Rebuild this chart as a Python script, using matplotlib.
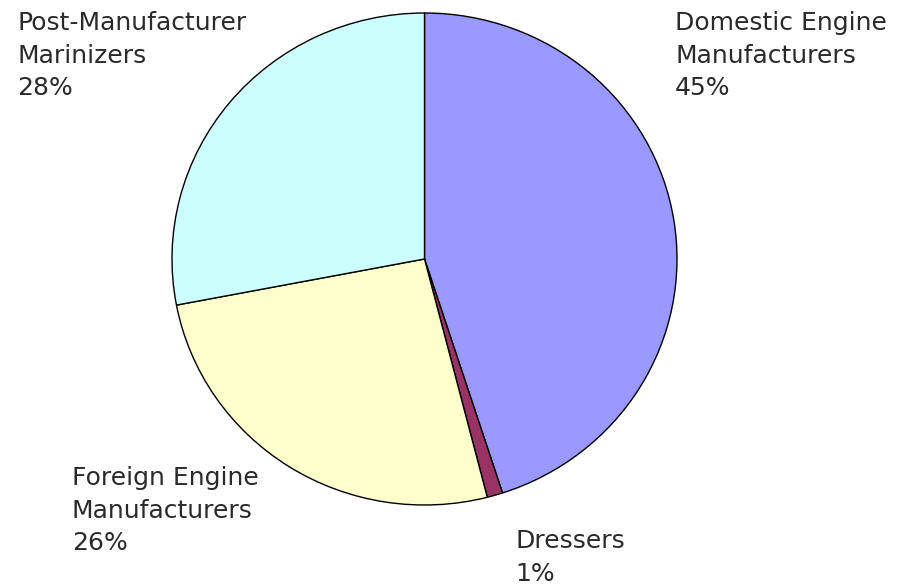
import matplotlib.pyplot as plt

# Parts de marché par catégorie de fabricant
categories = ['Domestic Engine\nManufacturers', 'Dressers',
              'Foreign Engine\nManufacturers', 'Post-Manufacturer\nMarinizers']
parts = [45, 1, 26, 28]
couleurs = ['#9999FF', '#993366', '#FFFFCC', '#CCFFFF']

# Position des étiquettes (pixels, coin haut-gauche)
pos_etiquettes = [(675, 11), (515, 529), (72, 466), (17, 11)]

W, H = 901, 585
fig = plt.figure(figsize=(W / 100, H / 100), dpi=100)
fig.patch.set_facecolor('white')

# Zone du camembert : légèrement elliptique
ax = fig.add_axes([172 / W, 1 - 505 / H, 505 / W, 492 / H])
ax.pie(parts, colors=couleurs, startangle=90, counterclock=False,
       radius=1, wedgeprops=dict(edgecolor='black', linewidth=1.0))
ax.set_aspect('auto')
ax.set_xlim(-1.0, 1.0)
ax.set_ylim(-1.0, 1.0)
ax.axis('off')

for cat, p, (x, y) in zip(categories, parts, pos_etiquettes):
    fig.text(x / W, 1 - y / H, '%s\n%d%%' % (cat, p), ha='left', va='top',
             fontsize=18.0, family='DejaVu Sans', color='#2a2a2a',
             linespacing=1.45)

fig.savefig('out.png', dpi=100, facecolor='white')
